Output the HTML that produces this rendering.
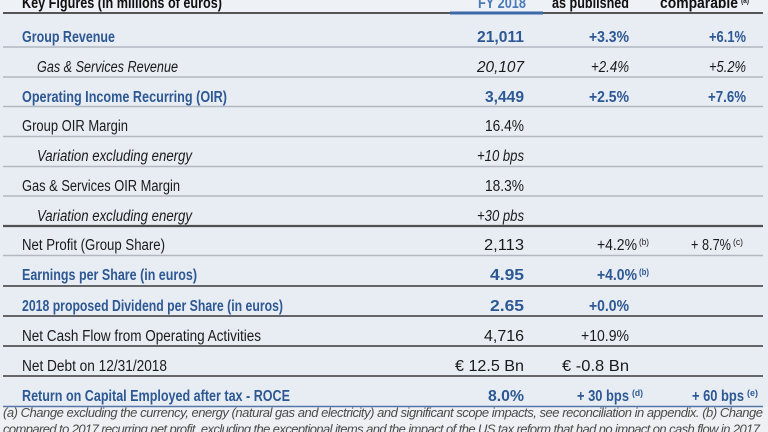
<!DOCTYPE html>
<html>
<head>
<meta charset="utf-8">
<style>
html,body{margin:0;padding:0;background:#e8edf4;}
svg{display:block;}
text{font-family:"Liberation Sans",Arial,sans-serif;}
.b{font-weight:bold;fill:#2d5893;font-size:15.5px;}
.k{font-weight:bold;fill:#111;font-size:15.5px;}
.r{fill:#1a1a1a;font-size:15.5px;}
.i{fill:#1a1a1a;font-size:15.5px;font-style:italic;}
.sb{font-weight:bold;fill:#2d5893;font-size:9.5px;}
.sr{fill:#1a1a1a;font-size:9.5px;}
.f{fill:#4a4a4a;font-size:13px;font-style:italic;}
</style>
</head>
<body>
<svg width="768" height="432" viewBox="0 0 768 432" xmlns="http://www.w3.org/2000/svg">
<rect x="0" y="0" width="768" height="432" fill="#e8edf4"/>
<rect x="0" y="0" width="768" height="13" fill="#eef1f6"/>
<rect x="0" y="407" width="768" height="25" fill="#eef0f4"/>

<!-- Header -->
<text class="k" x="22" y="8" textLength="200" lengthAdjust="spacingAndGlyphs">Key Figures (in millions of euros)</text>
<text class="k" x="526" y="8" text-anchor="end" textLength="48" lengthAdjust="spacingAndGlyphs" style="fill:#4a7ab8">FY 2018</text>
<text class="k" x="552" y="8" textLength="77" lengthAdjust="spacingAndGlyphs">as published</text>
<text class="k" x="660" y="8" textLength="78" lengthAdjust="spacingAndGlyphs">comparable</text>
<text class="sr" x="741" y="3" textLength="8" lengthAdjust="spacingAndGlyphs" style="font-weight:bold">(a)</text>
<line x1="3" y1="13" x2="763" y2="13" stroke="#555" stroke-width="2"/>
<line x1="450" y1="13" x2="543" y2="13" stroke="#3c6aa8" stroke-width="3"/>

<!-- Row separators -->
<g stroke="#b3b7bf" stroke-width="1.5">
<line x1="3" y1="47" x2="763" y2="47"/>
<line x1="3" y1="77" x2="763" y2="77"/>
<line x1="3" y1="106.5" x2="763" y2="106.5"/>
<line x1="3" y1="136.5" x2="763" y2="136.5"/>
<line x1="3" y1="166.5" x2="763" y2="166.5"/>
<line x1="3" y1="196" x2="763" y2="196"/>
<line x1="3" y1="255.5" x2="763" y2="255.5"/>
</g>
<g stroke="#3a3a3a">
<line x1="3" y1="226" x2="763" y2="226" stroke-width="2.2" stroke="#505050"/>
<line x1="3" y1="286" x2="763" y2="286" stroke-width="1.6"/>
<line x1="3" y1="316" x2="763" y2="316" stroke-width="1.6"/>
<line x1="3" y1="346" x2="763" y2="346" stroke-width="1.6"/>
<line x1="3" y1="376" x2="763" y2="376" stroke-width="1.6"/>
</g>
<line x1="3" y1="406.5" x2="763" y2="406.5" stroke="#5577a8" stroke-width="1.5"/>

<!-- Row 1 -->
<text class="b" x="22" y="42" textLength="93" lengthAdjust="spacingAndGlyphs">Group Revenue</text>
<text class="b" x="524" y="42" text-anchor="end" textLength="47" lengthAdjust="spacingAndGlyphs">21,011</text>
<text class="b" x="629" y="42" text-anchor="end" textLength="40" lengthAdjust="spacingAndGlyphs">+3.3%</text>
<text class="b" x="746" y="42" text-anchor="end" textLength="37" lengthAdjust="spacingAndGlyphs">+6.1%</text>

<!-- Row 2 -->
<text class="i" x="37" y="72" textLength="141" lengthAdjust="spacingAndGlyphs">Gas &amp; Services Revenue</text>
<text class="i" x="524" y="72" text-anchor="end" textLength="47" lengthAdjust="spacingAndGlyphs">20,107</text>
<text class="i" x="629" y="72" text-anchor="end" textLength="38" lengthAdjust="spacingAndGlyphs">+2.4%</text>
<text class="i" x="746" y="72" text-anchor="end" textLength="37" lengthAdjust="spacingAndGlyphs">+5.2%</text>

<!-- Row 3 -->
<text class="b" x="22" y="102" textLength="205" lengthAdjust="spacingAndGlyphs">Operating Income Recurring (OIR)</text>
<text class="b" x="524" y="102" text-anchor="end" textLength="39" lengthAdjust="spacingAndGlyphs">3,449</text>
<text class="b" x="629" y="102" text-anchor="end" textLength="40" lengthAdjust="spacingAndGlyphs">+2.5%</text>
<text class="b" x="746" y="102" text-anchor="end" textLength="38" lengthAdjust="spacingAndGlyphs">+7.6%</text>

<!-- Row 4 -->
<text class="r" x="22" y="131" textLength="106" lengthAdjust="spacingAndGlyphs">Group OIR Margin</text>
<text class="r" x="524" y="131" text-anchor="end" textLength="39" lengthAdjust="spacingAndGlyphs">16.4%</text>

<!-- Row 5 -->
<text class="i" x="37" y="161" textLength="155" lengthAdjust="spacingAndGlyphs">Variation excluding energy</text>
<text class="i" x="524" y="161" text-anchor="end" textLength="47" lengthAdjust="spacingAndGlyphs">+10 bps</text>

<!-- Row 6 -->
<text class="r" x="22" y="191" textLength="158" lengthAdjust="spacingAndGlyphs">Gas &amp; Services OIR Margin</text>
<text class="r" x="524" y="191" text-anchor="end" textLength="39" lengthAdjust="spacingAndGlyphs">18.3%</text>

<!-- Row 7 -->
<text class="i" x="37" y="221" textLength="155" lengthAdjust="spacingAndGlyphs">Variation excluding energy</text>
<text class="i" x="524" y="221" text-anchor="end" textLength="47" lengthAdjust="spacingAndGlyphs">+30 pbs</text>

<!-- Row 8 -->
<text class="r" x="22" y="250" textLength="143" lengthAdjust="spacingAndGlyphs">Net Profit (Group Share)</text>
<text class="r" x="524" y="250" text-anchor="end" textLength="40" lengthAdjust="spacingAndGlyphs">2,113</text>
<text class="r" x="597" y="250" textLength="40" lengthAdjust="spacingAndGlyphs">+4.2%</text>
<text class="sr" x="639" y="245" textLength="10" lengthAdjust="spacingAndGlyphs">(b)</text>
<text class="r" x="691" y="250" textLength="40" lengthAdjust="spacingAndGlyphs">+ 8.7%</text>
<text class="sr" x="733" y="245" textLength="10" lengthAdjust="spacingAndGlyphs">(c)</text>

<!-- Row 9 -->
<text class="b" x="22" y="280" textLength="175" lengthAdjust="spacingAndGlyphs">Earnings per Share (in euros)</text>
<text class="b" x="524" y="280" text-anchor="end" textLength="34" lengthAdjust="spacingAndGlyphs">4.95</text>
<text class="b" x="597" y="280" textLength="40" lengthAdjust="spacingAndGlyphs">+4.0%</text>
<text class="sb" x="639" y="275" textLength="10" lengthAdjust="spacingAndGlyphs">(b)</text>

<!-- Row 10 -->
<text class="b" x="22" y="311" textLength="261" lengthAdjust="spacingAndGlyphs">2018 proposed Dividend per Share (in euros)</text>
<text class="b" x="524" y="311" text-anchor="end" textLength="34" lengthAdjust="spacingAndGlyphs">2.65</text>
<text class="b" x="629" y="311" text-anchor="end" textLength="40" lengthAdjust="spacingAndGlyphs">+0.0%</text>

<!-- Row 11 -->
<text class="r" x="22" y="341" textLength="239" lengthAdjust="spacingAndGlyphs">Net Cash Flow from Operating Activities</text>
<text class="r" x="524" y="341" text-anchor="end" textLength="40" lengthAdjust="spacingAndGlyphs">4,716</text>
<text class="r" x="629" y="341" text-anchor="end" textLength="48" lengthAdjust="spacingAndGlyphs">+10.9%</text>

<!-- Row 12 -->
<text class="r" x="22" y="371" textLength="145" lengthAdjust="spacingAndGlyphs">Net Debt on 12/31/2018</text>
<text class="r" x="524" y="371" text-anchor="end" textLength="69" lengthAdjust="spacingAndGlyphs">€ 12.5 Bn</text>
<text class="r" x="629" y="371" text-anchor="end" textLength="67" lengthAdjust="spacingAndGlyphs">€ -0.8 Bn</text>

<!-- Row 13 -->
<text class="b" x="22" y="401" textLength="268" lengthAdjust="spacingAndGlyphs">Return on Capital Employed after tax - ROCE</text>
<text class="b" x="524" y="401" text-anchor="end" textLength="36" lengthAdjust="spacingAndGlyphs">8.0%</text>
<text class="b" x="577" y="401" textLength="52" lengthAdjust="spacingAndGlyphs">+ 30 bps</text>
<text class="sb" x="632" y="396" textLength="11" lengthAdjust="spacingAndGlyphs">(d)</text>
<text class="b" x="692" y="401" textLength="52" lengthAdjust="spacingAndGlyphs">+ 60 bps</text>
<text class="sb" x="747" y="396" textLength="11" lengthAdjust="spacingAndGlyphs">(e)</text>

<!-- Footnote -->
<text class="f" x="3" y="417" textLength="760" lengthAdjust="spacing">(a) Change excluding the currency, energy (natural gas and electricity) and significant scope impacts, see reconciliation in appendix. (b) Change</text>
<text class="f" x="3" y="433.5" textLength="760" lengthAdjust="spacing">compared to 2017 recurring net profit, excluding the exceptional items and the impact of the US tax reform that had no impact on cash flow in 2017.</text>
</svg>
</body>
</html>
